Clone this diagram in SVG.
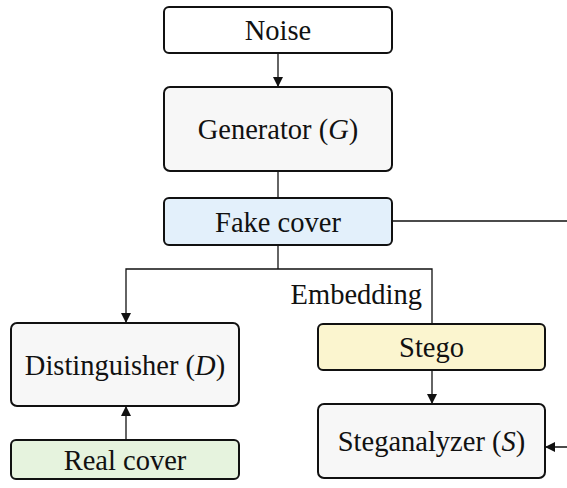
<svg xmlns="http://www.w3.org/2000/svg" width="567" height="488" viewBox="0 0 567 488">
<style>
.box{stroke:#111;stroke-width:2}
.lbl{font-family:"Liberation Serif","DejaVu Serif",serif;font-size:28.5px;fill:#111;text-anchor:middle}
.it{font-style:italic}
.conn{fill:none;stroke:#111;stroke-width:1.3}
</style>
<defs>
<marker id="arr" viewBox="0 0 10 10" refX="10" refY="5" markerWidth="10" markerHeight="10" markerUnits="userSpaceOnUse" orient="auto">
<path d="M0,0 L10,5 L0,10 z" fill="#111"/>
</marker>
</defs>
<rect width="567" height="488" fill="#fff"/>
<g id="connectors">
<path class="conn" d="M278,53 V87" marker-end="url(#arr)"/>
<path class="conn" d="M278,171 V198"/>
<path class="conn" d="M278,245 V269"/>
<path class="conn" d="M278,269 H126 V323" marker-end="url(#arr)"/>
<path class="conn" d="M278,269 H432 V324"/>
<path class="conn" d="M432,370 V404" marker-end="url(#arr)"/>
<path class="conn" d="M126,440 V406" marker-end="url(#arr)"/>
<path class="conn" d="M392,221 H580 V447 H545" marker-end="url(#arr)"/>
<text class="lbl" x="422" y="304" style="text-anchor:end">Embedding</text>
</g>
<g id="noise">
<rect class="box" x="164" y="7" width="228" height="46" rx="5" fill="#ffffff"/>
<text class="lbl" x="278" y="40">Noise</text>
</g>
<g id="generator">
<rect class="box" x="164" y="87" width="228" height="84" rx="6" fill="#f7f7f7"/>
<text class="lbl" x="278" y="139">Generator (<tspan class="it">G</tspan>)</text>
</g>
<g id="fake-cover">
<rect class="box" x="164" y="198" width="228" height="47" rx="5" fill="#e3f0fb"/>
<text class="lbl" x="278" y="232">Fake cover</text>
</g>
<g id="distinguisher">
<rect class="box" x="11" y="323" width="228" height="83" rx="6" fill="#f7f7f7"/>
<text class="lbl" x="125" y="375">Distinguisher (<tspan class="it">D</tspan>)</text>
</g>
<g id="real-cover">
<rect class="box" x="11" y="440" width="228" height="39" rx="5" fill="#e6f3de"/>
<text class="lbl" x="125" y="470">Real cover</text>
</g>
<g id="stego">
<rect class="box" x="318" y="324" width="227" height="46" rx="5" fill="#fbf5cf"/>
<text class="lbl" x="431.5" y="357">Stego</text>
</g>
<g id="steganalyzer">
<rect class="box" x="318" y="404" width="227" height="74" rx="6" fill="#f7f7f7"/>
<text class="lbl" x="431.5" y="451">Steganalyzer (<tspan class="it">S</tspan>)</text>
</g>
</svg>
